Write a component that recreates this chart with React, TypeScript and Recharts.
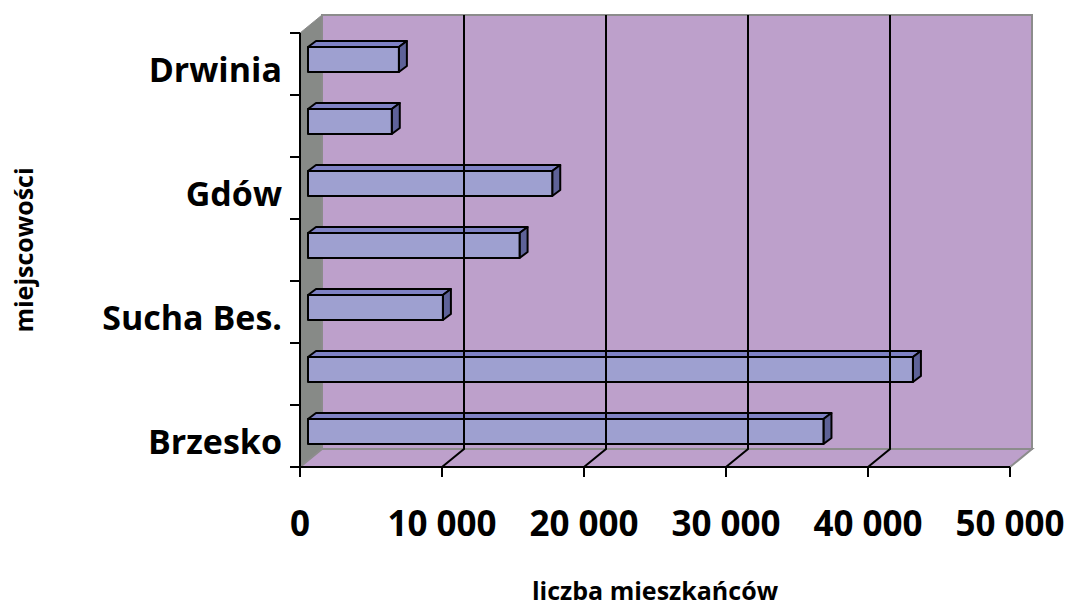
import React from "react";
import {
  BarChart,
  Bar,
  XAxis,
  YAxis,
  ReferenceArea,
  ReferenceLine,
  Label,
} from "recharts";

// categories from top to bottom (only every other one is labelled on the axis)
const places = ["Drwinia", "poz. 6", "Gdów", "poz. 4", "Sucha Bes.", "poz. 2", "Brzesko"];
const residents = [6400, 5900, 17200, 14900, 9500, 42600, 36300];
const xTicks = [0, 10000, 20000, 30000, 40000, 50000];
const gridValues = [10000, 20000, 30000, 40000];

const data = places.map((name, i) => ({ name, value: residents[i] }));

const W = 1071;
const H = 608;
const MARGIN = { top: 33, right: 61, left: 20, bottom: 61 };
const YAXIS_W = 280;
const XAXIS_H = 80;

// 3d offsets
const WALL_DX = 22;
const WALL_DY = -18;
const BAR_DX = 8;
const BAR_DY = -5;
const BAR_DEPTH_X = 8;
const BAR_DEPTH_Y = -6;
const TICK = 10;

const FONT = "'Open Sans', 'DejaVu Sans', sans-serif";
const WALL_PURPLE = "#bda0cb";
const WALL_GRAY = "#878a87";
const EDGE_GRAY = "#8c8c8c";

function fmt(v: number) {
  return String(v).replace(/\B(?=(\d{3})+(?!\d))/g, " ");
}

// walls, floor and the front category-axis line with ticks between categories
function Box3D(props: any) {
  const { x, y, width, height } = props;
  const b = y + height;
  const step = height / places.length;
  const bounds = Array.from({ length: places.length + 1 }, (_, i) => y + i * step);
  return (
    <g>
      <rect
        x={x + WALL_DX}
        y={y + WALL_DY}
        width={width}
        height={height}
        fill={WALL_PURPLE}
        stroke={EDGE_GRAY}
        strokeWidth={2}
      />
      <polygon
        points={`${x},${y} ${x + WALL_DX},${y + WALL_DY} ${x + WALL_DX},${b + WALL_DY} ${x},${b}`}
        fill={WALL_GRAY}
        stroke={EDGE_GRAY}
        strokeWidth={1}
      />
      <polygon
        points={`${x},${b} ${x + WALL_DX},${b + WALL_DY} ${x + width + WALL_DX},${b + WALL_DY} ${x + width},${b}`}
        fill={WALL_PURPLE}
        stroke={EDGE_GRAY}
        strokeWidth={2}
      />
      <line x1={x} y1={y} x2={x} y2={b} stroke="#000" strokeWidth={2} />
      {bounds.map((ty, i) => (
        <line key={i} x1={x - TICK} y1={ty} x2={x} y2={ty} stroke="#000" strokeWidth={2} />
      ))}
    </g>
  );
}

// gridline: diagonal across the floor, then up the back wall
function GridLine3D(props: any) {
  const { x1, y1, x2, y2 } = props;
  const x = x1 ?? x2;
  const top = Math.min(y1, y2);
  const bottom = Math.max(y1, y2);
  const bx = x + WALL_DX;
  return (
    <path
      d={`M${x},${bottom} L${bx},${bottom + WALL_DY} L${bx},${top + WALL_DY}`}
      fill="none"
      stroke="#000"
      strokeWidth={2}
    />
  );
}

function Bar3D(props: any) {
  const { x, y, width, height } = props;
  if (width == null || width <= 0) return null;
  const fx = x + BAR_DX;
  const fy = y + BAR_DY;
  const r = fx + width;
  const dx = BAR_DEPTH_X;
  const dy = BAR_DEPTH_Y;
  return (
    <g stroke="#000" strokeWidth={2} strokeLinejoin="round">
      <polygon
        points={`${fx},${fy} ${fx + dx},${fy + dy} ${r + dx},${fy + dy} ${r},${fy}`}
        fill="#7f82c4"
      />
      <polygon
        points={`${r},${fy} ${r + dx},${fy + dy} ${r + dx},${fy + dy + height} ${r},${fy + height}`}
        fill="#5e6298"
      />
      <rect x={fx} y={fy} width={width} height={height} fill="#9ea0d0" />
    </g>
  );
}

function CatTick(props: any) {
  const { x, y, payload } = props;
  return (
    <text
      x={x}
      y={y + 18}
      textAnchor="end"
      fontFamily={FONT}
      fontWeight={700}
      fontSize={34}
      fill="#000"
    >
      {payload.value}
    </text>
  );
}

function ValueTick(props: any) {
  const { x, y, payload } = props;
  return (
    <text
      x={x}
      y={y + 59}
      textAnchor="middle"
      fontFamily={FONT}
      fontWeight={700}
      fontSize={35}
      fill="#000"
    >
      {fmt(payload.value)}
    </text>
  );
}

function XTitle(props: any) {
  const vb = props.viewBox || {};
  return (
    <text
      x={vb.x + vb.width / 2}
      y={vb.y + 133}
      textAnchor="middle"
      fontFamily={FONT}
      fontWeight={700}
      fontSize={25}
      fill="#000"
    >
      liczba mieszkańców
    </text>
  );
}

function YTitle() {
  const cx = 33;
  const cy = MARGIN.top + (H - MARGIN.top - MARGIN.bottom - XAXIS_H) / 2;
  return (
    <text
      x={cx}
      y={cy}
      transform={`rotate(-90 ${cx} ${cy})`}
      textAnchor="middle"
      fontFamily={FONT}
      fontWeight={700}
      fontSize={25}
      fill="#000"
    >
      miejscowości
    </text>
  );
}

export default function App() {
  return (
    <div style={{ position: "absolute", left: 0, top: 0, width: W, height: H, background: "#fff" }}>
      <BarChart width={W} height={H} data={data} layout="vertical" margin={MARGIN}>
        <XAxis
          type="number"
          domain={[0, 50000]}
          ticks={xTicks}
          interval={0}
          height={XAXIS_H}
          tickSize={TICK}
          tickMargin={0}
          axisLine={{ stroke: "#000", strokeWidth: 2 }}
          tickLine={{ stroke: "#000", strokeWidth: 2 }}
          tick={<ValueTick />}
        >
          <Label content={<XTitle />} />
        </XAxis>
        <YAxis
          yAxisId="cat"
          type="category"
          dataKey="name"
          orientation="left"
          width={YAXIS_W}
          interval={1}
          tickSize={TICK}
          tickMargin={8}
          axisLine={false}
          tickLine={false}
          tick={<CatTick />}
        >
          <Label content={<YTitle />} />
        </YAxis>
        <ReferenceArea x1={0} x2={50000} yAxisId="cat" shape={<Box3D />} ifOverflow="visible" />
        {gridValues.map((v) => (
          <ReferenceLine
            key={v}
            x={v}
            yAxisId="cat"
            ifOverflow="visible"
            shape={<GridLine3D />}
          />
        ))}
        <Bar dataKey="value" yAxisId="cat" barSize={25} shape={<Bar3D />} isAnimationActive={false} />
      </BarChart>
    </div>
  );
}
